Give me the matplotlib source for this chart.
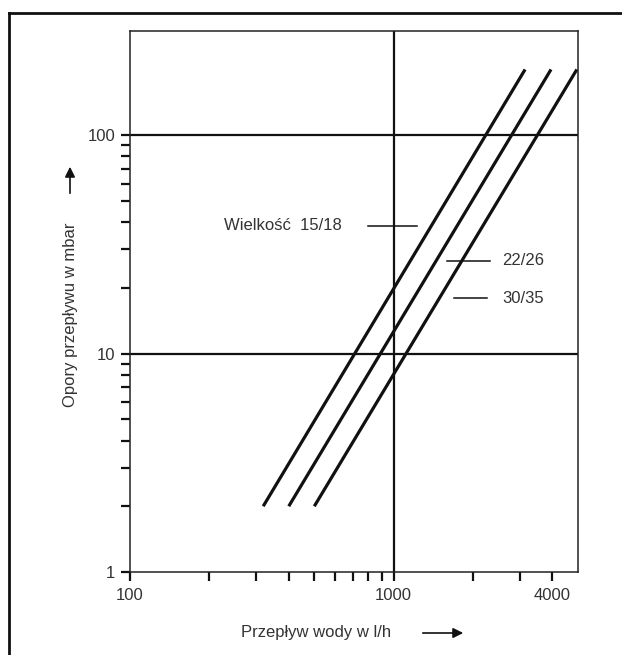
import matplotlib
matplotlib.use("Agg")
import matplotlib.pyplot as plt
from matplotlib.lines import Line2D
from matplotlib.ticker import FixedLocator, NullFormatter, FixedFormatter

plt.rcParams['font.family'] = ['Liberation Sans', 'DejaVu Sans']

# przeplyw [l/h] i opory [mbar] dla trzech wielkosci
flow_15_18 = [320, 3150]
dp_15_18 = [2, 200]
flow_22_26 = [400, 3950]
dp_22_26 = [2, 200]
flow_30_35 = [500, 4950]
dp_30_35 = [2, 200]

x_ticks = [100, 1000, 4000]
x_labels = ['100', '1000', '4000']
x_minor = [200, 300, 400, 500, 600, 700, 800, 900, 2000, 3000]
y_ticks = [1, 10, 100]
y_labels = ['1', '10', '100']
y_minor = [2, 3, 4, 5, 6, 7, 8, 9, 20, 30, 40, 50, 60, 70, 80, 90]

txt = '#333333'
fs = 12
fig = plt.figure(figsize=(6.22, 6.55), dpi=100)
ax = fig.add_axes([130/622, 1-572/655, 448/622, 541/655])
ax.set_xscale('log')
ax.set_yscale('log')
ax.set_xlim(100, 5000)
ax.set_ylim(1, 300)

for fl, dp in [(flow_15_18, dp_15_18), (flow_22_26, dp_22_26), (flow_30_35, dp_30_35)]:
    ax.plot(fl, dp, color='#111111', lw=2.3, solid_capstyle='butt', clip_on=False)

# linie siatki
for yv in [10, 100]:
    ax.axhline(yv, color='#111111', lw=1.6)
ax.axvline(1000, color='#111111', lw=1.6)

ax.xaxis.set_major_locator(FixedLocator(x_ticks))
ax.xaxis.set_major_formatter(FixedFormatter(x_labels))
ax.xaxis.set_minor_locator(FixedLocator(x_minor))
ax.xaxis.set_minor_formatter(NullFormatter())
ax.yaxis.set_major_locator(FixedLocator(y_ticks))
ax.yaxis.set_major_formatter(FixedFormatter(y_labels))
ax.yaxis.set_minor_locator(FixedLocator(y_minor))
ax.yaxis.set_minor_formatter(NullFormatter())
ax.tick_params(which='both', direction='out', length=6.5, width=1.6, color='#111111',
               labelsize=fs, labelcolor=txt)
ax.tick_params(axis='x', which='both', pad=5)
ax.tick_params(axis='y', which='both', pad=4)
for s in ax.spines.values():
    s.set_linewidth(1.1)
    s.set_color('#222222')

# opisy krzywych
ax.text(0.473, 0.64, 'Wielkość  15/18', transform=ax.transAxes, ha='right', va='center',
        fontsize=fs, color=txt)
ax.plot([0.531, 0.641], [0.64, 0.64], transform=ax.transAxes, color='#111111', lw=1.1)
ax.text(0.830, 0.575, '22/26', transform=ax.transAxes, ha='left', va='center',
        fontsize=fs, color=txt)
ax.plot([0.708, 0.804], [0.575, 0.575], transform=ax.transAxes, color='#111111', lw=1.1)
ax.text(0.830, 0.506, '30/35', transform=ax.transAxes, ha='left', va='center',
        fontsize=fs, color=txt)
ax.plot([0.723, 0.797], [0.506, 0.506], transform=ax.transAxes, color='#111111', lw=1.1)

# opisy osi ze strzalkami
fig.text(316/622, 1-633/655, 'Przepływ wody w l/h', ha='center', va='center',
         fontsize=fs, color=txt)
ax.annotate('', xy=(466/622, 1-633/655), xytext=(420/622, 1-633/655),
            xycoords='figure fraction', textcoords='figure fraction',
            arrowprops=dict(arrowstyle='-|>', color='#111111', lw=1.2, mutation_scale=15))
fig.text(70/622, 1-315/655, 'Opory przepływu w mbar', ha='center', va='center',
         rotation=90, fontsize=fs, color=txt)
ax.annotate('', xy=(70/622, 1-164/655), xytext=(70/622, 1-196/655),
            xycoords='figure fraction', textcoords='figure fraction',
            arrowprops=dict(arrowstyle='-|>', color='#111111', lw=1.2, mutation_scale=15))

# ramka
fig.add_artist(Line2D([9/622, 9/622], [0, 1-13/655], color='#111111', lw=2))
fig.add_artist(Line2D([9/622, 1], [1-13/655, 1-13/655], color='#111111', lw=2))

fig.savefig('out.png', dpi=100)
